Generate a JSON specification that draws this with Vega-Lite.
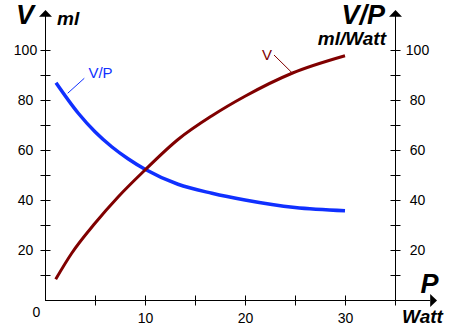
{
  "$schema": "https://vega.github.io/schema/vega-lite/v6.json",
  "width": 392,
  "height": 290,
  "autosize": {"type": "none"},
  "padding": {"left": 45, "top": 10, "right": 13, "bottom": 30},
  "config": {
    "view": {"stroke": null},
    "axis": {
      "grid": false, "domain": false,
      "labelFont": "Liberation Sans", "labelFontSize": 14, "labelColor": "#000",
      "tickColor": "#000", "tickSize": 10, "tickWidth": 1,
      "labelOverlap": false, "labelBound": false, "labelFlush": false
    },
    "text": {"font": "Liberation Sans"}
  },
  "datasets": {
    "curves": [
      {"series": "V", "P": 1.07, "val": 8.3},
      {"series": "V", "P": 2.67, "val": 18.7},
      {"series": "V", "P": 5, "val": 30.7},
      {"series": "V", "P": 7.33, "val": 41.3},
      {"series": "V", "P": 9.9, "val": 51.6},
      {"series": "V", "P": 13.3, "val": 64.2},
      {"series": "V", "P": 16.7, "val": 73.7},
      {"series": "V", "P": 20, "val": 81.5},
      {"series": "V", "P": 24.7, "val": 90.7},
      {"series": "V", "P": 30, "val": 97.7},
      {"series": "V/P", "P": 1.1, "val": 86.9},
      {"series": "V/P", "P": 3.33, "val": 74.7},
      {"series": "V/P", "P": 5, "val": 67.3},
      {"series": "V/P", "P": 6.67, "val": 61.3},
      {"series": "V/P", "P": 8.3, "val": 56.5},
      {"series": "V/P", "P": 10, "val": 52.3},
      {"series": "V/P", "P": 13.3, "val": 46.3},
      {"series": "V/P", "P": 16.7, "val": 42.7},
      {"series": "V/P", "P": 20, "val": 40},
      {"series": "V/P", "P": 25, "val": 37},
      {"series": "V/P", "P": 30, "val": 35.7}
    ]
  },
  "layer": [
    {
      "data": {"name": "curves"},
      "transform": [{"filter": "datum.series == 'V/P'"}],
      "mark": {"type": "line", "color": "#1030ff", "strokeWidth": 3.5, "interpolate": "monotone"},
      "encoding": {
        "x": {"field": "P", "type": "quantitative", "scale": {"domain": [0, 39.2], "nice": false}, "axis": null},
        "y": {"field": "val", "type": "quantitative", "scale": {"domain": [0, 116], "nice": false},
          "axis": {"orient": "right", "offset": -47, "values": [10, 20, 30, 40, 50, 60, 70, 80, 90, 100],
            "labelExpr": "datum.value % 20 == 0 ? datum.label : ''", "labelAlign": "center",
            "labelBaseline": "middle", "labelPadding": 17, "title": null}}
      }
    },
    {
      "data": {"name": "curves"},
      "transform": [{"filter": "datum.series == 'V'"}],
      "mark": {"type": "line", "color": "#800000", "strokeWidth": 3, "interpolate": "monotone"},
      "encoding": {
        "x": {"field": "P", "type": "quantitative", "scale": {"domain": [0, 39.2], "nice": false},
          "axis": {"orient": "bottom", "offset": -5, "values": [5, 10, 15, 20, 25, 30, 35],
            "labelExpr": "datum.value % 10 == 0 ? datum.label : ''", "labelPadding": 6, "title": null}},
        "y": {"field": "val", "type": "quantitative", "scale": {"domain": [0, 116], "nice": false},
          "axis": {"orient": "left", "offset": -5, "values": [10, 20, 30, 40, 50, 60, 70, 80, 90, 100],
            "labelExpr": "datum.value % 20 == 0 ? datum.label : ''", "labelAlign": "center",
            "labelBaseline": "middle", "labelPadding": 15, "title": null}}
      }
    },
    {
      "data": {"values": [{}]},
      "layer": [
        {
          "mark": {"type": "rule", "color": "#000", "strokeWidth": 1, "xOffset": 0.5},
          "encoding": {
            "x": {"datum": 0, "type": "quantitative", "scale": {"domain": [0, 39.2], "nice": false}, "axis": null},
            "y": {"datum": 0, "type": "quantitative", "scale": {"domain": [0, 116], "nice": false}, "axis": null},
            "y2": {"datum": 114}
          }
        },
        {
          "mark": {"type": "rule", "color": "#000", "strokeWidth": 1, "xOffset": 0.5},
          "encoding": {
            "x": {"datum": 35, "type": "quantitative", "axis": null},
            "y": {"datum": 0, "type": "quantitative", "axis": null},
            "y2": {"datum": 114}
          }
        },
        {
          "mark": {"type": "rule", "color": "#000", "strokeWidth": 1, "yOffset": 0.5},
          "encoding": {
            "x": {"datum": 0, "type": "quantitative", "axis": null},
            "x2": {"datum": 38.5},
            "y": {"datum": 0, "type": "quantitative", "axis": null}
          }
        },
        {
          "mark": {"type": "point", "shape": "M0,0L-1,1.05L1,1.05Z", "filled": true, "size": 169, "color": "#000", "opacity": 1, "strokeWidth": 0, "xOffset": 0.5},
          "encoding": {
            "x": {"datum": 0, "type": "quantitative", "axis": null},
            "y": {"datum": 116, "type": "quantitative", "axis": null}
          }
        },
        {
          "mark": {"type": "point", "shape": "M0,0L-1,1.05L1,1.05Z", "filled": true, "size": 169, "color": "#000", "opacity": 1, "strokeWidth": 0, "xOffset": 0.5},
          "encoding": {
            "x": {"datum": 35, "type": "quantitative", "axis": null},
            "y": {"datum": 116, "type": "quantitative", "axis": null}
          }
        },
        {
          "mark": {"type": "point", "shape": "M0,0L-1.05,-1L-1.05,1Z", "filled": true, "size": 169, "color": "#000", "opacity": 1, "strokeWidth": 0, "yOffset": 0.5},
          "encoding": {
            "x": {"datum": 39.2, "type": "quantitative", "axis": null},
            "y": {"datum": 0, "type": "quantitative", "axis": null}
          }
        },
        {
          "mark": {"type": "text", "text": "V", "fontSize": 27, "fontWeight": "bold", "fontStyle": "italic", "align": "center", "baseline": "alphabetic", "color": "#000"},
          "encoding": {
            "x": {"datum": -2, "type": "quantitative", "axis": null},
            "y": {"datum": 110.4, "type": "quantitative", "axis": null}
          }
        },
        {
          "mark": {"type": "text", "text": "ml", "fontSize": 19, "fontWeight": "bold", "fontStyle": "italic", "align": "left", "baseline": "alphabetic", "color": "#000"},
          "encoding": {
            "x": {"datum": 1.2, "type": "quantitative", "axis": null},
            "y": {"datum": 110, "type": "quantitative", "axis": null}
          }
        },
        {
          "mark": {"type": "text", "text": "V/P", "fontSize": 27, "fontWeight": "bold", "fontStyle": "italic", "align": "right", "baseline": "alphabetic", "color": "#000"},
          "encoding": {
            "x": {"datum": 34, "type": "quantitative", "axis": null},
            "y": {"datum": 110.4, "type": "quantitative", "axis": null}
          }
        },
        {
          "mark": {"type": "text", "text": "ml/Watt", "fontSize": 19, "fontWeight": "bold", "fontStyle": "italic", "align": "right", "baseline": "alphabetic", "color": "#000"},
          "encoding": {
            "x": {"datum": 34.1, "type": "quantitative", "axis": null},
            "y": {"datum": 102, "type": "quantitative", "axis": null}
          }
        },
        {
          "mark": {"type": "text", "text": "P", "fontSize": 27, "fontWeight": "bold", "fontStyle": "italic", "align": "center", "baseline": "alphabetic", "color": "#000"},
          "encoding": {
            "x": {"datum": 38.45, "type": "quantitative", "axis": null},
            "y": {"datum": 2.8, "type": "quantitative", "axis": null}
          }
        },
        {
          "mark": {"type": "text", "text": "Watt", "fontSize": 19, "fontWeight": "bold", "fontStyle": "italic", "align": "center", "baseline": "alphabetic", "color": "#000"},
          "encoding": {
            "x": {"datum": 37.75, "type": "quantitative", "axis": null},
            "y": {"datum": -9.2, "type": "quantitative", "axis": null}
          }
        },
        {
          "mark": {"type": "text", "text": "0", "fontSize": 14, "align": "center", "baseline": "alphabetic", "color": "#000"},
          "encoding": {
            "x": {"datum": -0.85, "type": "quantitative", "axis": null},
            "y": {"datum": -6.8, "type": "quantitative", "axis": null}
          }
        },
        {
          "mark": {"type": "text", "text": "V/P", "fontSize": 15, "align": "center", "baseline": "alphabetic", "color": "#1030ff"},
          "encoding": {
            "x": {"datum": 5.55, "type": "quantitative", "axis": null},
            "y": {"datum": 88.8, "type": "quantitative", "axis": null}
          }
        },
        {
          "mark": {"type": "rule", "color": "#1030ff", "strokeWidth": 1},
          "encoding": {
            "x": {"datum": 3.93, "type": "quantitative", "axis": null},
            "y": {"datum": 88.7, "type": "quantitative", "axis": null},
            "x2": {"datum": 2.27},
            "y2": {"datum": 82.7}
          }
        },
        {
          "mark": {"type": "text", "text": "V", "fontSize": 15, "align": "center", "baseline": "alphabetic", "color": "#800000"},
          "encoding": {
            "x": {"datum": 22.2, "type": "quantitative", "axis": null},
            "y": {"datum": 96, "type": "quantitative", "axis": null}
          }
        },
        {
          "mark": {"type": "rule", "color": "#800000", "strokeWidth": 1},
          "encoding": {
            "x": {"datum": 22.9, "type": "quantitative", "axis": null},
            "y": {"datum": 98, "type": "quantitative", "axis": null},
            "x2": {"datum": 24.7},
            "y2": {"datum": 90.9}
          }
        }
      ]
    }
  ],
  "resolve": {"scale": {"x": "independent", "y": "independent"}}
}
